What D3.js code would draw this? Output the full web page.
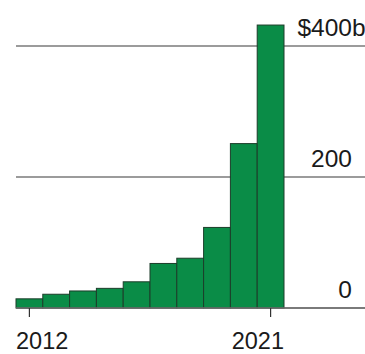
<!DOCTYPE html>
<html>
<head>
<meta charset="utf-8">
<script src="https://cdn.jsdelivr.net/npm/d3@7/dist/d3.min.js"></script>
<style>
  html, body { margin: 0; padding: 0; background: #fff; }
  svg { display: block; }
  text { font-family: "Liberation Sans", Arial, Helvetica, sans-serif; fill: #1a1a1a; }
</style>
</head>
<body>
<svg id="chart" width="365" height="354"></svg>
<script>
const years = [2012, 2013, 2014, 2015, 2016, 2017, 2018, 2019, 2020, 2021];
const values = [14, 21, 26, 30, 40, 68, 76, 123, 251, 432];
const yTicks = [0, 200, 400];
const yTickLabels = ["0", "200", "$400b"];
const xTickYears = [2012, 2021];

const svg = d3.select("#chart");
const x = d3.scaleBand().domain(years).range([16, 284]).paddingInner(0).paddingOuter(0);
const y = d3.scaleLinear().domain([0, 400]).range([308, 46]);

// gridlines
svg.append("g").selectAll("line").data(yTicks).join("line")
  .attr("x1", 16).attr("x2", 365)
  .attr("y1", d => y(d)).attr("y2", d => y(d))
  .attr("stroke", "#7a7a7a").attr("stroke-width", 1.5);

// bars
svg.append("g").selectAll("rect").data(years).join("rect")
  .attr("x", d => x(d))
  .attr("y", (d, i) => y(values[i]))
  .attr("width", x.bandwidth())
  .attr("height", (d, i) => y(0) - y(values[i]))
  .attr("fill", "#0a8c47")
  .attr("stroke", "#1c3d2a")
  .attr("stroke-width", 1);

// baseline redraw
svg.append("line").attr("x1", 16).attr("x2", 365).attr("y1", y(0)).attr("y2", y(0))
  .attr("stroke", "#6f6f6f").attr("stroke-width", 1.5);

// x axis ticks
const xAxis = d3.axisBottom(x).tickValues(xTickYears).tickSize(9).tickSizeOuter(0).tickPadding(0);
const gx = svg.append("g").attr("transform", `translate(0,${y(0)})`).call(xAxis);
gx.select(".domain").remove();
gx.selectAll(".tick line").attr("stroke", "#333").attr("stroke-width", 1.2);
gx.selectAll(".tick text")
  .attr("y", 40.5).attr("dy", 0)
  .attr("font-size", 23.5)
  .attr("fill", "#1a1a1a")
  .attr("x", d => d === xTickYears[0] ? -x.bandwidth() / 2 : x.bandwidth() / 2)
  .attr("text-anchor", d => d === xTickYears[0] ? "start" : "end");

// y labels, numbers right-aligned at 352
const ylab = svg.append("g").selectAll("text").data(yTicks).join("text")
  .attr("font-size", 24.5)
  .attr("y", d => y(d) - 10.5)
  .attr("text-anchor", "start")
  .text((d, i) => yTickLabels[i]);
ylab.each(function(d, i) {
  const label = yTickLabels[i];
  const numEnd = label.endsWith("b") ? label.length - 1 : label.length;
  const w = this.getSubStringLength(0, numEnd);
  d3.select(this).attr("x", 352 - w);
});
</script>
</body>
</html>
